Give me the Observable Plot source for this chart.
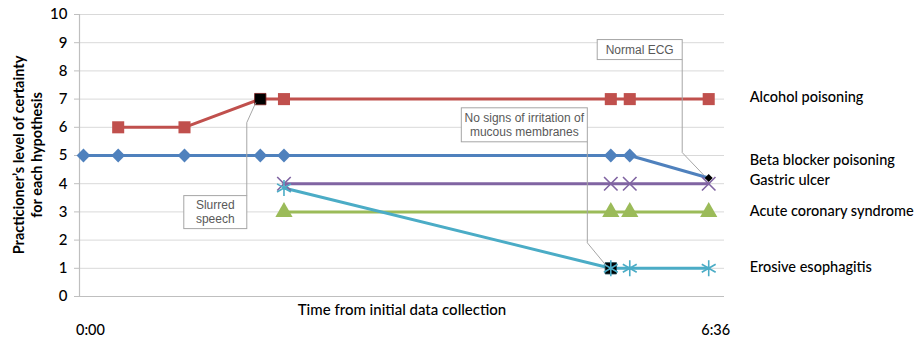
<!DOCTYPE html>
<html>
<head>
<meta charset="utf-8">
<script src="https://cdn.jsdelivr.net/npm/d3@7"></script>
<script src="https://cdn.jsdelivr.net/npm/@observablehq/plot@0.6"></script>
<style>
  html, body { margin: 0; padding: 0; background: #fff; }
  #chart svg { display: block; }
</style>
</head>
<body>
<div id="chart"></div>
<script>
// Minutes since initial data collection for each assessment
const times = [0, 22, 64, 112, 127, 334, 346, 396];

// Certainty level (0–10) per hypothesis at each assessment; null = not yet considered
const alcohol   = [null, 6, 6, 7, 7, 7, 7, 7];
const beta      = [5, 5, 5, 5, 5, 5, 5, 4.2];
const gastric   = [null, null, null, null, 4, 4, 4, 4];
const acs       = [null, null, null, null, 3, 3, 3, 3];
const erosive   = [null, null, null, null, 3.85, 1, 1, 1];

const seriesNames = ["Alcohol poisoning", "Beta blocker poisoning", "Gastric ulcer", "Acute coronary syndrome", "Erosive esophagitis"];
const yTicks = [0, 1, 2, 3, 4, 5, 6, 7, 8, 9, 10];
const xTickLabels = ["0:00", "6:36"];

// Findings that shifted a hypothesis: [series index, time index, note lines]
const findings = [
  [0, 3, ["Slurred", "speech"]],
  [4, 5, ["No signs of irritation of", "mucous membranes"]],
  [1, 7, ["Normal ECG"]]
];

const valuesBySeries = [alcohol, beta, gastric, acs, erosive];
const styles = [
  {color: "#C0504D", symbol: "square",   r: 6.8, filled: true},
  {color: "#4F81BD", symbol: "diamond2", r: 6.2, filled: true},
  {color: "#8064A2", symbol: "times",    r: 6.2, filled: false},
  {color: "#9BBB59", symbol: "triangle", r: 6.4, filled: true},
  {color: "#4BACC6", symbol: "asterisk", r: 7.6, filled: false}
];
// vertical nudge of the right-hand series labels (px)
const labelDy = [-2, -18, -3, -1, -1];

const rows = valuesBySeries.map((vals, s) =>
  times.map((t, i) => ({series: seriesNames[s], t, v: vals[i]})).filter(d => d.v != null)
);

const FONT = "Lato, 'Open Sans', sans-serif";

const marks = [
  Plot.gridY(yTicks.slice(1), {stroke: "#d9d9d9", strokeOpacity: 1, strokeWidth: 1}),
  Plot.ruleY([0], {stroke: "#bfbfbf", strokeWidth: 1.2}),
  Plot.ruleX([-2.5], {stroke: "#bfbfbf", strokeWidth: 1.2}),
  Plot.axisY({ticks: yTicks, tickSize: 5, tickPadding: 7, fontSize: 15, stroke: "#bfbfbf",
              fill: "#000", fontWeight: 500, label: null, tickFormat: d => String(d)}),
  Plot.axisX({ticks: [0, 396], tickSize: 0, tickPadding: 28, fontSize: 14.5, dx: 7,
              fill: "#000", fontWeight: 500, label: null, tickFormat: (d, i) => xTickLabels[i]}),
  Plot.text(["Time from initial data collection"], {frameAnchor: "bottom", lineAnchor: "middle", dy: 14,
              fontSize: 15, fontWeight: 500, fill: "#000"})
];

rows.forEach((data, s) => {
  const st = styles[s];
  marks.push(Plot.line(data, {x: "t", y: "v", stroke: st.color, strokeWidth: 3}));
});

// highlighted points where a finding was recorded (black marker beneath the series marker)
findings.forEach(([s, i]) => {
  const pt = [{t: times[i], v: valuesBySeries[s][i]}];
  if (s === 1) {
    marks.push(Plot.dot(pt, {x: "t", y: "v", symbol: "diamond2", r: 3.6, fill: "#000"}));
  } else {
    marks.push(Plot.dot(pt, {x: "t", y: "v", symbol: "square", r: 6.4, fill: "#000",
      stroke: s === 0 ? "#7a2020" : "#1b4a55", strokeWidth: 0.8}));
  }
});

rows.forEach((data, s) => {
  const st = styles[s];
  const skip = new Set(findings.filter(f => f[0] === s && s !== 4).map(f => times[f[1]]));
  const pts = data.filter(d => !skip.has(d.t));
  marks.push(Plot.dot(pts, st.filled
    ? {x: "t", y: "v", symbol: st.symbol, r: st.r, fill: st.color}
    : {x: "t", y: "v", symbol: st.symbol, r: st.r, stroke: st.color, strokeWidth: 1.6}));
});

// series labels to the right of the plotting area
rows.forEach((data, s) => {
  const last = data[data.length - 1];
  marks.push(Plot.text([last], {x: "t", y: "v", text: () => seriesNames[s], dx: 41, dy: labelDy[s],
    textAnchor: "start", fontSize: 14.5, fill: "#000", fontWeight: 500}));
});

const chart = Plot.plot({
  width: 916,
  height: 341,
  marginLeft: 79,
  marginRight: 192,
  marginTop: 14,
  marginBottom: 45,
  style: {fontFamily: FONT, background: "#fff", overflow: "visible"},
  x: {domain: [-2.5, 406], axis: null},
  y: {domain: [0, 10], axis: null},
  marks
});

// callout boxes with elbow leader lines, positioned relative to the finding's point
const callouts = [
  {elbow: [-13, 24], boxW: 63, boxH: 33, boxTop: 97},
  {elbow: [-23, -25], boxW: 126, boxH: 34, boxTop: -160},
  {elbow: [-26, -25], boxW: 85, boxH: 20, boxTop: -138}
];
const xs = chart.scale("x"), ys = chart.scale("y");
const g = d3.select(chart).append("g").attr("font-family", "'Liberation Sans Narrow', 'Arial Narrow', 'Liberation Sans', sans-serif");
findings.forEach(([s, i, lines], k) => {
  const c = callouts[k];
  const ax = xs.apply(times[i]), ay = ys.apply(valuesBySeries[s][i]);
  const ex = ax + c.elbow[0], ey = ay + c.elbow[1];
  const top = ay + c.boxTop, bottom = top + c.boxH;
  const edgeY = ey > bottom ? bottom : top;
  g.append("polyline")
    .attr("points", `${ax - 4},${ay + (c.elbow[1] > 0 ? 4 : -2)} ${ex},${ey} ${ex},${edgeY}`)
    .attr("fill", "none").attr("stroke", "#a6a6a6").attr("stroke-width", 1);
  g.append("rect")
    .attr("x", ex - c.boxW).attr("y", top).attr("width", c.boxW).attr("height", c.boxH)
    .attr("fill", "#fff").attr("stroke", "#a6a6a6").attr("stroke-width", 1);
  const lh = 14;
  lines.forEach((ln, j) => {
    g.append("text")
      .attr("x", ex - c.boxW / 2)
      .attr("y", top + c.boxH / 2 + (j - (lines.length - 1) / 2) * lh)
      .attr("dy", "0.35em").attr("text-anchor", "middle")
      .attr("font-size", 12).attr("fill", "#595959").text(ln);
  });
});

// y-axis title (two lines, rotated)
const yt = d3.select(chart).append("g").attr("transform", "translate(28,155) rotate(-90)")
  .attr("font-family", FONT).attr("font-size", 14.5).attr("font-weight", 700).attr("fill", "#000");
yt.append("text").attr("text-anchor", "middle").attr("y", -9).attr("dy", "0.35em").text("Practicioner’s level of certainty");
yt.append("text").attr("text-anchor", "middle").attr("y", 9).attr("dy", "0.35em").text("for each hypothesis");

document.getElementById("chart").appendChild(chart);
</script>
</body>
</html>
